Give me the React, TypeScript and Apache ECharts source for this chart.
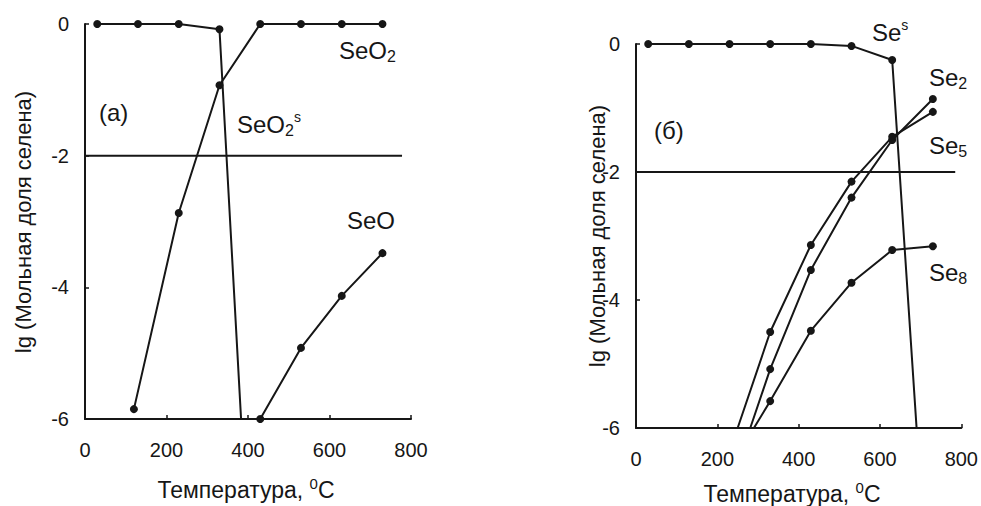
import React, { useEffect, useRef } from "react";
import * as echarts from "echarts";

const FONT = '"Liberation Sans", Arial, sans-serif';
const INK = "#161616";

// x: temperature, °C; y: lg of selenium mole fraction
const xTicks = [0, 200, 400, 600, 800];
const yTicks = [0, -2, -4, -6];

// panel (а): SeO2 system
const seO2Solid = [[30, 0], [130, 0], [230, 0], [330, -0.08]];
const seO2SolidEnd = [383, -6];
const seO2Gas = [[120, -5.85], [230, -2.87], [330, -0.93], [430, 0], [530, 0], [630, 0], [730, 0]];
const seOGas = [[430, -6], [530, -4.92], [630, -4.13], [730, -3.48]];
const levelA = [[0, -2], [778, -2]];

// panel (б): elemental selenium
const seSolid = [[30, 0], [130, 0], [230, 0], [330, 0], [430, 0], [530, -0.03], [630, -0.25]];
const seSolidEnd = [690, -6];
const se2 = [[330, -5.08], [430, -3.53], [530, -2.4], [630, -1.5], [730, -0.86]];
const se2Start = [281, -6];
const se5 = [[330, -4.5], [430, -3.14], [530, -2.15], [630, -1.45], [730, -1.06]];
const se5Start = [250, -6];
const se8 = [[330, -5.58], [430, -4.48], [530, -3.73], [630, -3.22], [730, -3.16]];
const se8Start = [290, -6];
const levelB = [[0, -2], [785, -2]];

const pts = (a: number[][]) => a.map((p) => ({ value: p }));
const bare = (p: number[]) => ({ value: p, symbol: "none" });

function lineSeries(idx: number, data: any[], withSymbols = true) {
  return {
    type: "line",
    xAxisIndex: idx,
    yAxisIndex: idx,
    data,
    symbol: withSymbols ? "circle" : "none",
    symbolSize: 8,
    showSymbol: withSymbols,
    itemStyle: { color: INK },
    lineStyle: { color: INK, width: 2 },
    clip: false,
    silent: true,
  };
}

function xAxis(grid: number) {
  return {
    type: "value",
    gridIndex: grid,
    min: 0,
    max: 800,
    interval: 200,
    splitLine: { show: false },
    axisLine: { show: true, onZero: false, lineStyle: { color: INK, width: 2 } },
    axisTick: { show: true, inside: true, length: 4, lineStyle: { color: INK, width: 1.5 } },
    axisLabel: {
      fontFamily: FONT,
      fontSize: 20,
      color: INK,
      margin: 21,
      formatter: (v: number) => (xTicks.includes(v) ? String(v) : ""),
    },
  };
}

function yAxis(grid: number) {
  return {
    type: "value",
    gridIndex: grid,
    min: -6,
    max: 0,
    interval: 2,
    splitLine: { show: false },
    axisLine: { show: true, onZero: false, lineStyle: { color: INK, width: 2 } },
    axisTick: { show: true, inside: true, length: 4, lineStyle: { color: INK, width: 1.5 } },
    axisLabel: {
      fontFamily: FONT,
      fontSize: 20,
      color: INK,
      margin: 16,
      formatter: (v: number) => (yTicks.includes(v) ? String(v) : ""),
    },
  };
}

const rich = {
  m: { fontFamily: FONT, fontSize: 24, fill: INK, lineHeight: 28 },
  sub: { fontFamily: FONT, fontSize: 16, fill: INK, verticalAlign: "bottom", lineHeight: 16 },
  sup: { fontFamily: FONT, fontSize: 14, fill: INK, verticalAlign: "top", lineHeight: 16 },
  n: { fontFamily: FONT, fontSize: 23, fill: INK, lineHeight: 28 },
  ns: { fontFamily: FONT, fontSize: 15, fill: INK, verticalAlign: "top", lineHeight: 15 },
  y: { fontFamily: FONT, fontSize: 22, fill: INK, lineHeight: 26 },
};

function label(x: number, y: number, text: string) {
  return {
    type: "text",
    x,
    y,
    silent: true,
    style: { text, rich, align: "left", verticalAlign: "top" },
  };
}

function axisName(x: number, y: number, text: string, rotation = 0) {
  return {
    type: "text",
    x,
    y,
    rotation,
    silent: true,
    style: {
      text,
      rich,
      align: "center",
      verticalAlign: "middle",
    },
  };
}

export default function App() {
  const ref = useRef<HTMLDivElement>(null);

  useEffect(() => {
    document.body.style.margin = "0";
    const chart = echarts.init(ref.current!, null, { renderer: "svg" });
    chart.setOption({
      animation: false,
      backgroundColor: "#ffffff",
      grid: [
        { left: 85, top: 24, width: 326, height: 395 },
        { left: 636, top: 44, width: 327, height: 384 },
      ],
      xAxis: [xAxis(0), xAxis(1)],
      yAxis: [yAxis(0), yAxis(1)],
      series: [
        lineSeries(0, levelA, false),
        lineSeries(0, [...pts(seO2Solid), bare(seO2SolidEnd)]),
        lineSeries(0, pts(seO2Gas)),
        lineSeries(0, pts(seOGas)),
        lineSeries(1, levelB, false),
        lineSeries(1, [...pts(seSolid), bare(seSolidEnd)]),
        lineSeries(1, [bare(se2Start), ...pts(se2)]),
        lineSeries(1, [bare(se5Start), ...pts(se5)]),
        lineSeries(1, [bare(se8Start), ...pts(se8)]),
      ],
      graphic: [
        label(99, 98, "{m|(а)}"),
        label(339, 36, "{m|SeO}{sub|2}"),
        label(237, 110, "{m|SeO}{sub|2}{sup|s}"),
        label(347, 206, "{m|SeO}"),
        label(654, 116, "{m|(б)}"),
        label(872, 18, "{m|Se}{sup|s}"),
        label(929, 63, "{m|Se}{sub|2}"),
        label(929, 131, "{m|Se}{sub|5}"),
        label(929, 258, "{m|Se}{sub|8}"),
        axisName(246, 490, "{n|Температура, }{ns|0}{n|C}"),
        axisName(792, 494, "{n|Температура, }{ns|0}{n|C}"),
        axisName(23, 222, "{y|lg (Мольная доля селена)}", Math.PI / 2),
        axisName(597, 236, "{y|lg (Мольная доля селена)}", Math.PI / 2),
      ],
    });
    return () => chart.dispose();
  }, []);

  return <div ref={ref} style={{ width: 981, height: 506 }} />;
}
